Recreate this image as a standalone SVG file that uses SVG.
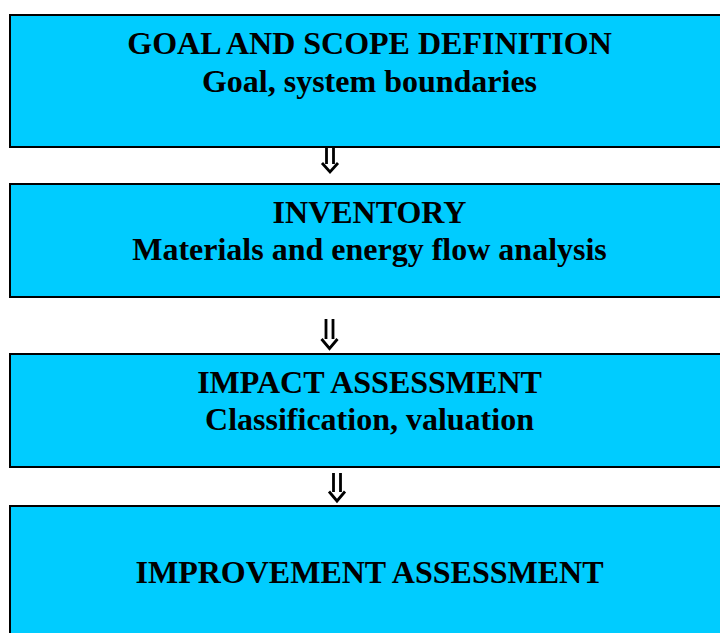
<svg xmlns="http://www.w3.org/2000/svg" width="720" height="633" viewBox="0 0 720 633">
<style>
.box{fill:#00CCFF;stroke:#000;stroke-width:2}
.t{font-family:"Liberation Serif","Times New Roman",serif;font-weight:bold;font-size:32px;fill:#000;text-anchor:middle}
.ar{fill:none;stroke:#000;stroke-width:2.8;stroke-linejoin:miter}
</style>
<rect width="720" height="633" fill="#fff"/>
<g id="goal">
<rect class="box" x="10" y="15" width="720" height="132"/>
<text class="t" x="369.5" y="54">GOAL AND SCOPE DEFINITION</text>
<text class="t" x="369.5" y="92">Goal, system boundaries</text>
</g>
<g id="inventory">
<rect class="box" x="10" y="184" width="720" height="113"/>
<text class="t" x="369.5" y="223">INVENTORY</text>
<text class="t" x="369.5" y="260">Materials and energy flow analysis</text>
</g>
<g id="impact">
<rect class="box" x="10" y="354" width="720" height="113"/>
<text class="t" x="369.5" y="393">IMPACT ASSESSMENT</text>
<text class="t" x="369.5" y="430">Classification, valuation</text>
</g>
<g id="improvement">
<rect class="box" x="10" y="506" width="720" height="140"/>
<text class="t" x="369.5" y="583">IMPROVEMENT ASSESSMENT</text>
</g>
<g id="connectors">
<path class="ar" d="M326.5 148V164M333.5 148V164M322 163L330 172L338 163"/>
<path class="ar" d="M326 319V339M333 319V339M321.5 339L329.5 348.5L337.5 339"/>
<path class="ar" d="M333.5 473V492M340.5 473V492M329 491.5L337 501L345 491.5"/>
</g>
</svg>
